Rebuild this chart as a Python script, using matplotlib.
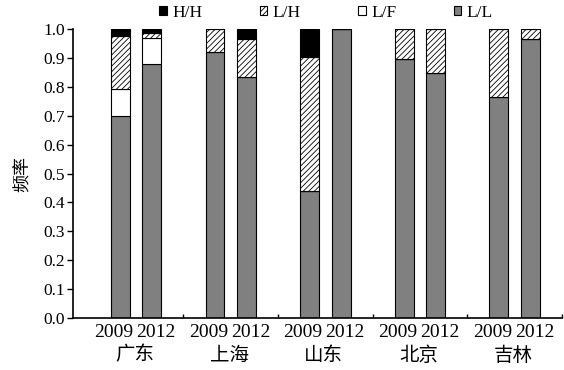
import matplotlib
matplotlib.use("Agg")
import matplotlib.pyplot as plt
import matplotlib.transforms as mtransforms
import numpy as np

provinces = ["广东", "上海", "山东", "北京", "吉林"]
years = ["2009", "2012"]
# values per bar in order: 广东2009, 广东2012, 上海2009, ...
LL = [0.70, 0.878, 0.921, 0.835, 0.44, 1.00, 0.896, 0.848, 0.764, 0.965]
LF = [0.093, 0.092, 0.0, 0.0, 0.0, 0.0, 0.0, 0.0, 0.0, 0.0]
LH = [0.183, 0.015, 0.079, 0.129, 0.464, 0.0, 0.104, 0.152, 0.236, 0.035]
HH = [0.024, 0.015, 0.0, 0.036, 0.096, 0.0, 0.0, 0.0, 0.0, 0.0]

plt.rcParams['hatch.linewidth'] = 0.6

fig = plt.figure(figsize=(5.64, 3.70), dpi=100)
ax = fig.add_axes([73/564, 52/370, (562-73)/564, (318-29)/370])

pos = []
for g in range(len(provinces)):
    pos += [3*g, 3*g+1]
pos = np.array(pos, dtype=float)
w = 0.6
LL_a, LF_a, LH_a, HH_a = map(np.array, (LL, LF, LH, HH))

ax.bar(pos, LL_a, w, color="#808080", edgecolor="black", linewidth=0.8, label="L/L")
ax.bar(pos, LF_a, w, bottom=LL_a, color="white", edgecolor="black", linewidth=0.8, label="L/F")
ax.bar(pos, LH_a, w, bottom=LL_a+LF_a, color="white", edgecolor="black", hatch="//////", linewidth=0.8, label="L/H")
ax.bar(pos, HH_a, w, bottom=LL_a+LF_a+LH_a, color="black", edgecolor="black", linewidth=0.8, label="H/H")

ax.set_xlim(-1.5, 14.0)
ax.set_ylim(0, 1.0)
ax.set_yticks(np.arange(0, 1.01, 0.1))
ax.set_yticklabels([f"{v:.1f}" for v in np.arange(0, 1.01, 0.1)], family="Liberation Serif", fontsize=12.5)
ax.tick_params(axis='y', direction='out', length=4, width=1, pad=2)

ax.set_xticks([])
ax.set_xticks([2, 5, 8, 11, 14], minor=True)
ax.tick_params(axis='x', which='minor', direction='in', length=3, width=1, labelbottom=False)

xtrans = ax.get_xaxis_transform()
for i, p in enumerate(pos):
    yr = years[i % 2]
    dx = -6.5/100 if i % 2 == 0 else 4/100
    tr = xtrans + mtransforms.ScaledTranslation(dx, 0, fig.dpi_scale_trans)
    ax.text(p, -0.022, yr, transform=tr, ha='center', va='top',
            family="Liberation Serif", fontsize=14)

for g, p in enumerate(provinces):
    ax.text(3*g+0.45, -0.092, p, transform=xtrans, ha='center', va='top',
            family="Noto Sans CJK SC", fontsize=14)

ax.set_ylabel("频率", family="Noto Sans CJK SC", fontsize=13, labelpad=8)

for s in ["top", "right"]:
    ax.spines[s].set_visible(False)
for s in ["left", "bottom"]:
    ax.spines[s].set_linewidth(1.2)

h, l = ax.get_legend_handles_labels()
order = [3, 2, 1, 0]
leg = fig.legend([h[i] for i in order], [l[i] for i in order], loc='center', bbox_to_anchor=(326/564, 1-13/370),
                 ncol=4, frameon=False, prop={'family': 'Liberation Serif', 'size': 12.5},
                 handlelength=0.45, handleheight=0.45, handletextpad=0.3, columnspacing=3.3)

fig.savefig("out.png", dpi=100)
